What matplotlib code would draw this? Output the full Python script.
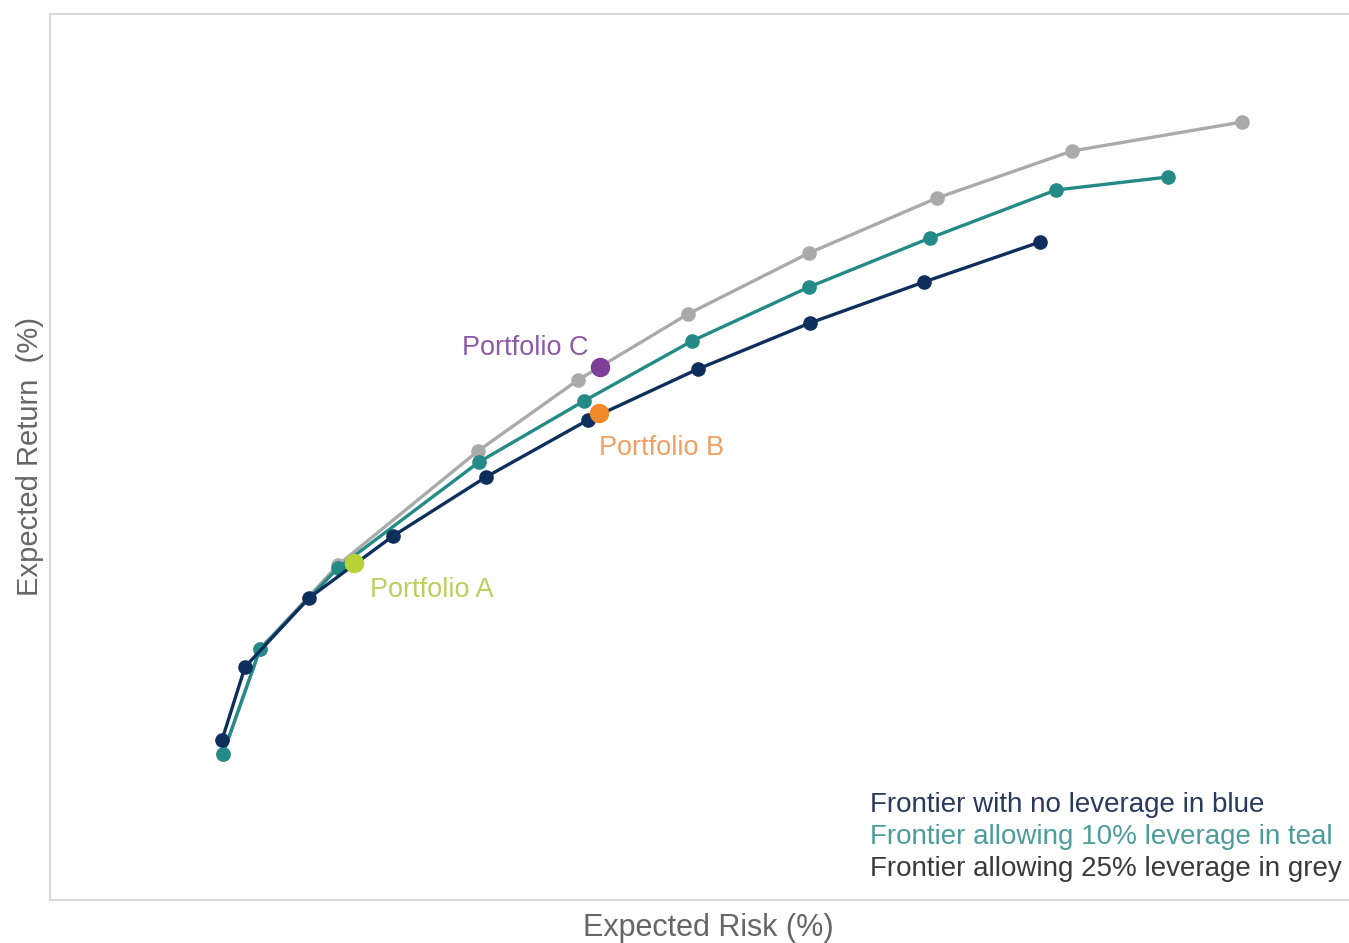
import matplotlib
matplotlib.use("Agg")
import matplotlib.pyplot as plt

plt.rcParams['font.family'] = ['Liberation Sans', 'DejaVu Sans']

# Efficient frontiers: expected risk vs expected return (arbitrary % units)
risk_no_lev = [1.72, 1.95, 2.59, 3.43, 4.36, 5.38, 6.48, 7.60, 8.74, 9.90]
ret_no_lev = [1.60, 2.33, 3.02, 3.64, 4.23, 4.80, 5.31, 5.77, 6.18, 6.58]

risk_lev10 = [1.73, 2.10, 2.88, 4.29, 5.34, 6.42, 7.59, 8.80, 10.06, 11.18]
ret_lev10 = [1.46, 2.51, 3.32, 4.38, 4.99, 5.59, 6.13, 6.62, 7.10, 7.23]

risk_lev25 = [1.73, 2.10, 2.88, 4.28, 5.28, 6.38, 7.59, 8.87, 10.22, 11.92]
ret_lev25 = [1.46, 2.51, 3.35, 4.49, 5.20, 5.86, 6.47, 7.02, 7.49, 7.78]

portfolio_names = ["Portfolio A", "Portfolio B", "Portfolio C"]
portfolio_risk = [3.04, 5.49, 5.50]
portfolio_ret = [3.37, 4.87, 5.33]

legend_lines = ["Frontier with no leverage in blue",
                "Frontier allowing 10% leverage in teal",
                "Frontier allowing 25% leverage in grey"]

BLUE = "#0e2f5c"
TEAL = "#238a87"
GREY = "#aaaaaa"
portfolio_colors = ["#b5d334", "#f08a2a", "#7d3f98"]
portfolio_label_colors = ["#bccf5e", "#f0a060", "#8c5aa8"]
portfolio_label_offsets = [(0.16, -0.27), (0.0, -0.35), (-1.38, 0.19)]

fig = plt.figure(figsize=(13.49, 9.43), dpi=100)
ax = fig.add_axes([50 / 1349, 43 / 943, 1 - 50 / 1349, 886 / 943])

line_kw = dict(linewidth=2.4, marker='o', markersize=9.5, solid_capstyle='round')
ax.plot(risk_lev25, ret_lev25, color=GREY, zorder=2, **line_kw)
ax.plot(risk_lev10, ret_lev10, color=TEAL, zorder=3, **line_kw)
ax.plot(risk_no_lev, ret_no_lev, color=BLUE, zorder=4, **line_kw)

for name, x, y, c, lc, (dx, dy) in zip(portfolio_names, portfolio_risk, portfolio_ret,
                                       portfolio_colors, portfolio_label_colors,
                                       portfolio_label_offsets):
    ax.plot([x], [y], 'o', color=c, markersize=13, zorder=5)
    ax.text(x + dx, y + dy, name, color=lc, fontsize=19.5, ha='left', va='center')

legend_colors = ["#2a3a5e", "#4d9c9c", "#3a3a3a"]
for i, (txt, c) in enumerate(zip(legend_lines, legend_colors)):
    ax.text(8.20, 0.95 - i * 0.32, txt, color=c, fontsize=20, ha='left', va='center')

ax.set_xlim(0, 12.99)
ax.set_ylim(0, 8.86)
ax.set_xticks([])
ax.set_yticks([])
for side in ['left', 'bottom', 'top']:
    ax.spines[side].set_color('#d9d9d9')
    ax.spines[side].set_linewidth(1.5)
ax.spines['right'].set_visible(False)

ax.set_xlabel("Expected Risk (%)", fontsize=22, color='#666666')
ax.set_ylabel("Expected Return  (%)", fontsize=21, color='#666666')
ax.xaxis.set_label_coords(0.5066, -0.015, transform=ax.transAxes)
ax.xaxis.label.set_va('top')
ax.yaxis.set_label_coords(-0.0154, 0.501, transform=ax.transAxes)
ax.yaxis.label.set_va('center')

fig.savefig("out.png", dpi=100)
